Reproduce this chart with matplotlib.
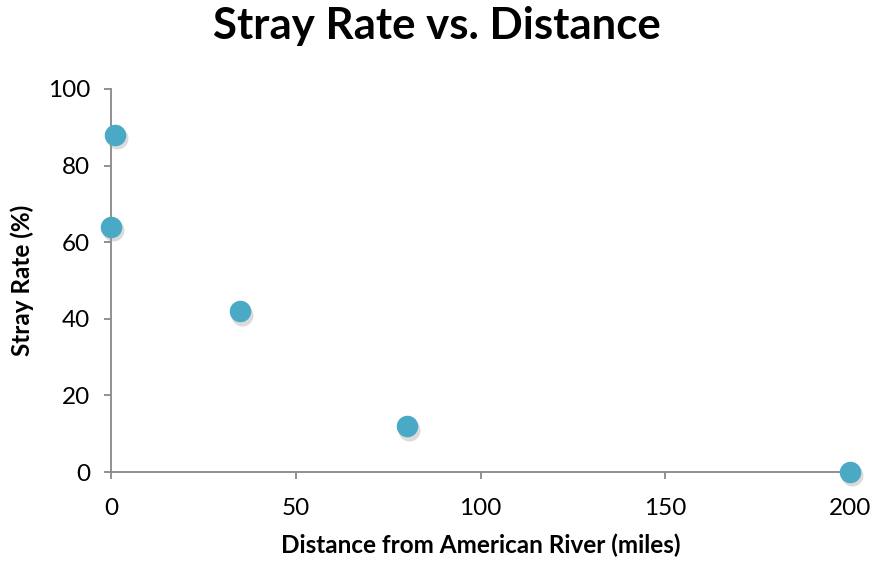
import matplotlib.pyplot as plt
import matplotlib.transforms as mtransforms

# distancia ao American River (milhas) e taxa de desvio (%)
distance = [0, 1, 35, 80, 200]
stray_rate = [64, 88, 42, 12, 0]

plt.rcParams['font.family'] = ['Lato', 'DejaVu Sans']

fig = plt.figure(figsize=(8.77, 5.63), dpi=100)
ax = fig.add_axes([0.1266, 0.1616, 0.8426, 0.6804])

# sombra leve atras dos pontos
shadow = mtransforms.offset_copy(ax.transData, fig=fig, x=1.5, y=-2.5, units='points')
ax.scatter(distance, stray_rate, s=250, color='#9a9a9a', alpha=0.35,
           linewidths=0, transform=shadow, clip_on=False, zorder=3)
ax.scatter(distance, stray_rate, s=240, color='#4aaac6', linewidths=0,
           clip_on=False, zorder=4)

ax.set_xlim(0, 200)
ax.set_ylim(0, 100)
ax.set_xticks([0, 50, 100, 150, 200])
ax.set_yticks([0, 20, 40, 60, 80, 100])

for s in ['top', 'right']:
    ax.spines[s].set_visible(False)
for s in ['left', 'bottom']:
    ax.spines[s].set_color('#888888')
    ax.spines[s].set_linewidth(1.3)
ax.tick_params(colors='#888888', labelcolor='black', labelsize=17.5,
               length=5, width=1.3, direction='out')
ax.tick_params(axis='x', pad=14)
ax.tick_params(axis='y', pad=10)

ax.set_xlabel('Distance from American River (miles)', fontsize=17.5,
              fontweight='bold', labelpad=10)
ax.set_ylabel('Stray Rate (%)', fontsize=17.5, fontweight='bold', labelpad=10)
fig.suptitle('Stray Rate vs. Distance', fontsize=31.5, fontweight='bold',
             x=0.498, y=0.99)

plt.savefig('out.png', dpi=100)
